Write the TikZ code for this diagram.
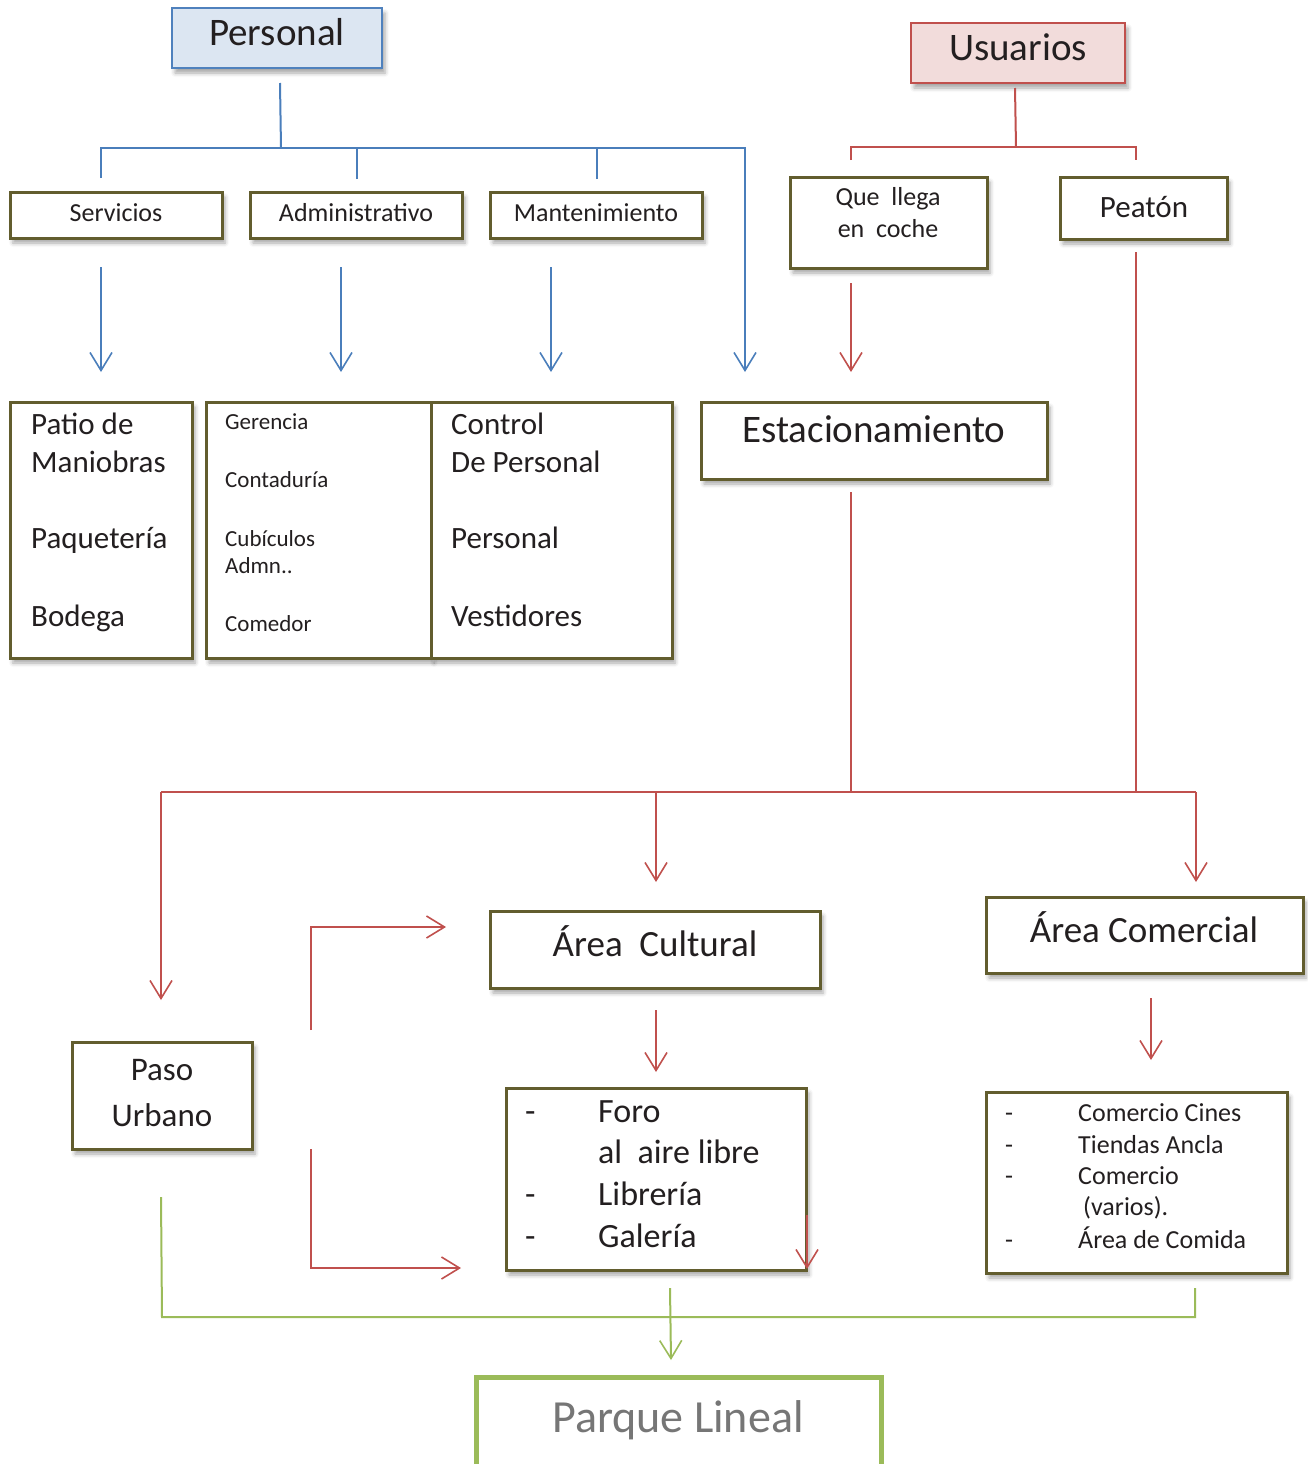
\documentclass[tikz,border=0pt]{standalone}
\usepackage{fontspec}
\setmainfont{Carlito}
\usetikzlibrary{arrows.meta,shadows.blur}
\definecolor{olv}{RGB}{98,93,46}
\definecolor{bline}{RGB}{74,126,187}
\definecolor{bbord}{RGB}{79,129,189}
\definecolor{bfill}{RGB}{220,230,242}
\definecolor{rline}{RGB}{192,80,77}
\definecolor{rfill}{RGB}{242,220,219}
\definecolor{gline}{RGB}{155,187,89}
\definecolor{txt}{RGB}{35,31,32}
\definecolor{gtxt}{RGB}{118,118,118}
\newcommand\fsz[1]{\fontsize{#1}{#1}\selectfont}
\tikzset{
  shd/.style={blur shadow={shadow xshift=3pt,shadow yshift=-5pt,shadow blur radius=4pt,shadow opacity=35}},
  obox/.style={draw=olv,line width=3pt,fill=white,inner sep=0pt,shd},
  bbox/.style={draw=bbord,line width=2.5pt,fill=bfill,inner sep=0pt,shd},
  rbox/.style={draw=rline,line width=2.5pt,fill=rfill,inner sep=0pt,shd},
  gbox/.style={draw=gline,line width=5pt,fill=white,inner sep=0pt},
  lbl/.style={inner sep=0pt,text=txt,anchor=base},
  lbll/.style={inner sep=0pt,text=txt,anchor=base west},
  bl/.style={draw=bline,line width=2pt},
  rl/.style={draw=rline,line width=2pt},
  gl/.style={draw=gline,line width=2pt},
  tip/.style={-{Straight Barb[length=18pt,width=22pt,line width=1.6pt]}},
}
\begin{document}
\begin{tikzpicture}[x=1pt,y=-1pt]
\useasboundingbox (0,0) rectangle (1307,1464);
% ---------- boxes ----------
\node[bbox,minimum width=210pt,minimum height=60pt] (pers) at (277,38) {};
\node[rbox,minimum width=214pt,minimum height=60pt] (usu) at (1018,53) {};
\node[obox,minimum width=212pt,minimum height=46pt] (serv) at (116,215) {};
\node[obox,minimum width=212pt,minimum height=46pt] (adm) at (356,215) {};
\node[obox,minimum width=212pt,minimum height=46pt] (mant) at (596,215) {};
\node[obox,minimum width=197pt,minimum height=91pt] (que) at (888.5,222.5) {};
\node[obox,minimum width=167pt,minimum height=62pt] (pea) at (1143.5,208) {};
\node[obox,minimum width=182pt,minimum height=256pt] (patio) at (101,530) {};
\node[obox,minimum width=225pt,minimum height=256pt] (ger) at (318.5,530) {};
\node[obox,minimum width=241pt,minimum height=256pt] (ctrl) at (551.5,530) {};
\node[obox,minimum width=346pt,minimum height=77pt] (est) at (874,440.5) {};
\node[obox,minimum width=330pt,minimum height=77pt] (cult) at (655,949.5) {};
\node[obox,minimum width=317pt,minimum height=76pt] (comer) at (1144.5,935) {};
\node[obox,minimum width=180pt,minimum height=107pt] (paso) at (162,1095.5) {};
\node[obox,minimum width=300pt,minimum height=182pt] (foro) at (656,1179) {};
\node[obox,minimum width=301pt,minimum height=181pt] (clist) at (1136.5,1182.5) {};
\node[gbox,minimum width=405pt,minimum height=102pt] (parque) at (678.5,1428) {};
% ---------- texts ----------
\node[lbl] (tpers) at (277,46) {\fsz{39}Personal};
\node[lbl] (tusu) at (1018,61) {\fsz{39}Usuarios};
\node[lbl] (tserv) at (116,221) {\fsz{26}Servicios};
\node[lbl] (tadm) at (356,221) {\fsz{26}Administrativo};
\node[lbl] (tmant) at (596,221) {\fsz{26}Mantenimiento};
\node[lbl] (tque1) at (888,205) {\fsz{26}Que\ \ llega};
\node[lbl] (tque2) at (888,237) {\fsz{26}en\ \ coche};
\node[lbl] (tpea) at (1144,217) {\fsz{31}Peatón};
\node[lbll] (tp1) at (31,434) {\fsz{31}Patio de};
\node[lbll] (tp2) at (31,472) {\fsz{31}Maniobras};
\node[lbll] (tp3) at (31,548) {\fsz{31}Paquetería};
\node[lbll] (tp4) at (31,626) {\fsz{31}Bodega};
\node[lbll] (tg1) at (225,429) {\fsz{23}Gerencia};
\node[lbll] (tg2) at (225,487) {\fsz{23}Contaduría};
\node[lbll] (tg3) at (225,546) {\fsz{23}Cubículos};
\node[lbll] (tg4) at (225,573) {\fsz{23}Admn..};
\node[lbll] (tg5) at (225,631) {\fsz{23}Comedor};
\node[lbll] (tc1) at (451,434) {\fsz{31}Control};
\node[lbll] (tc2) at (451,472) {\fsz{31}De Personal};
\node[lbll] (tc3) at (451,548) {\fsz{31}Personal};
\node[lbll] (tc4) at (451,626) {\fsz{31}Vestidores};
\node[lbl] (test) at (874,442) {\fsz{39}Estacionamiento};
\node[lbl] (tcult) at (655,956) {\fsz{37}Área\ \ Cultural};
\node[lbl] (tcomer) at (1144,942) {\fsz{37}Área Comercial};
\node[lbl] (tpaso1) at (162,1080) {\fsz{33}Paso};
\node[lbl] (tpaso2) at (162,1126) {\fsz{33}Urbano};
\node[lbll] (tfd1) at (525,1122) {\fsz{34}-};
\node[lbll] (tf1) at (598,1122) {\fsz{34}Foro};
\node[lbll] (tf2) at (598,1163) {\fsz{34}al\ \ aire libre};
\node[lbll] (tfd3) at (525,1205) {\fsz{34}-};
\node[lbll] (tf3) at (598,1205) {\fsz{34}Librería};
\node[lbll] (tfd4) at (525,1247) {\fsz{34}-};
\node[lbll] (tf4) at (598,1247) {\fsz{34}Galería};
\node[lbll] (tcd1) at (1005,1121) {\fsz{26}-};
\node[lbll] (tl1) at (1078,1121) {\fsz{26}Comercio Cines};
\node[lbll] (tcd2) at (1005,1153) {\fsz{26}-};
\node[lbll] (tl2) at (1078,1153) {\fsz{26}Tiendas Ancla};
\node[lbll] (tcd3) at (1005,1184) {\fsz{26}-};
\node[lbll] (tl3) at (1078,1184) {\fsz{26}Comercio};
\node[lbll] (tl4) at (1083,1215) {\fsz{26}(varios).};
\node[lbll] (tcd5) at (1005,1248) {\fsz{26}-};
\node[lbll] (tl5) at (1078,1248) {\fsz{26}Área de Comida};
\node[lbl,text=gtxt] (tparque) at (678,1432) {\fsz{46}Parque Lineal};
% ---------- coordinates ----------
\coordinate (b0) at (280,83);  \coordinate (b1) at (281,148);
\coordinate (bA) at (101,178); \coordinate (bB) at (101,148);
\coordinate (bC) at (745,148); \coordinate (bD) at (745,372);
\coordinate (bE) at (357,179); \coordinate (bF) at (357,148);
\coordinate (bG) at (597,179); \coordinate (bH) at (597,148);
\coordinate (s1) at (101,267);  \coordinate (s2) at (101,372);
\coordinate (a1) at (341,267);  \coordinate (a2) at (341,372);
\coordinate (m1) at (551,267);  \coordinate (m2) at (551,372);
\coordinate (u0) at (1015,88);  \coordinate (u1) at (1016,147);
\coordinate (uA) at (851,160);  \coordinate (uB) at (851,147);
\coordinate (uC) at (1136,147); \coordinate (uD) at (1136,160);
\coordinate (q1) at (851,283);  \coordinate (q2) at (851,372);
\coordinate (pe1) at (1136,252); \coordinate (pe2) at (1136,792);
\coordinate (e1) at (851,492);  \coordinate (e2) at (851,792);
\coordinate (hL) at (161,792);  \coordinate (hM) at (656,792); \coordinate (hR) at (1196,792);
\coordinate (hL2) at (161,1000); \coordinate (hM2) at (656,882); \coordinate (hR2) at (1196,882);
\coordinate (k1) at (311,1030); \coordinate (k2) at (311,927); \coordinate (k3) at (446,927);
\coordinate (k4) at (311,1149); \coordinate (k5) at (311,1268); \coordinate (k6) at (461,1268);
\coordinate (c1) at (656,1010); \coordinate (c2) at (656,1072);
\coordinate (co1) at (1151,998); \coordinate (co2) at (1151,1060);
\coordinate (f1) at (807,1215); \coordinate (f2) at (807,1269);
\coordinate (g1) at (161,1197); \coordinate (g2) at (162,1317);
\coordinate (g3) at (1195,1317); \coordinate (g4) at (1195,1288);
\coordinate (g5) at (670,1288); \coordinate (g6) at (671,1360);
% ---------- blue connectors ----------
\draw[bl] (b0) -- (b1);
\draw[bl,tip] (bA) -- (bB) -- (bC) -- (bD);
\draw[bl] (bE) -- (bF);
\draw[bl] (bG) -- (bH);
\draw[bl,tip] (s1) -- (s2);
\draw[bl,tip] (a1) -- (a2);
\draw[bl,tip] (m1) -- (m2);
% ---------- red connectors ----------
\draw[rl] (u0) -- (u1);
\draw[rl] (uA) -- (uB) -- (uC) -- (uD);
\draw[rl,tip] (q1) -- (q2);
\draw[rl] (pe1) -- (pe2);
\draw[rl] (e1) -- (e2);
\draw[rl] (hL) -- (hR);
\draw[rl,tip] (hL) -- (hL2);
\draw[rl,tip] (hM) -- (hM2);
\draw[rl,tip] (hR) -- (hR2);
\draw[rl,tip] (k1) -- (k2) -- (k3);
\draw[rl,tip] (k4) -- (k5) -- (k6);
\draw[rl,tip] (c1) -- (c2);
\draw[rl,tip] (co1) -- (co2);
\draw[rl,tip] (f1) -- (f2);
% ---------- green connectors ----------
\draw[gl] (g1) -- (g2) -- (g3) -- (g4);
\draw[gl,tip] (g5) -- (g6);
\end{tikzpicture}
\end{document}
